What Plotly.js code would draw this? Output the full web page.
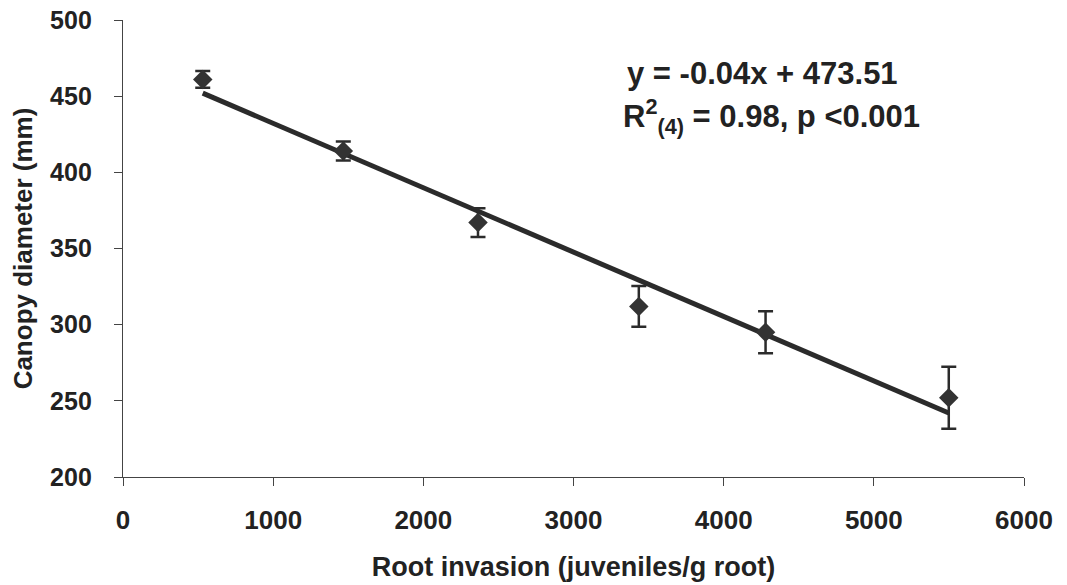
<!DOCTYPE html>
<html>
<head>
<meta charset="utf-8">
<script src="https://cdn.plot.ly/plotly-3.0.1.min.js"></script>
<style>html,body{margin:0;padding:0;background:#fff;}#chart{width:1067px;height:585px;}</style>
</head>
<body>
<div id="chart"></div>
<script>
// Data
const rootInvasion = [531, 1467, 2364, 3435, 4279, 5499];
const canopyDiameter = [461, 414, 367, 312, 295, 252];
const errorSE = [5.5, 6.2, 9.5, 13.4, 13.8, 20.3];
const fitX = [531, 5499];
const fitY = [452, 242];
const xTicks = [0, 1000, 2000, 3000, 4000, 5000, 6000];
const yTicks = [200, 250, 300, 350, 400, 450, 500];
const eqLine1 = "y = -0.04x + 473.51";
const eqLine2 = "R<sup>2</sup><sub>(4)</sub> = 0.98, p <0.001";

const font = "Liberation Sans, Arial, sans-serif";

const traces = [
  {
    x: fitX, y: fitY, mode: "lines", type: "scatter",
    line: {color: "#2b2b2b", width: 5}, hoverinfo: "skip", showlegend: false
  },
  {
    x: rootInvasion, y: canopyDiameter, mode: "markers", type: "scatter",
    marker: {symbol: "diamond", size: 15, color: "#333333"},
    error_y: {type: "data", array: errorSE, visible: true, color: "#2b2b2b", thickness: 2.5, width: 7.5},
    showlegend: false
  }
];

const layout = {
  width: 1067, height: 585,
  margin: {l: 123, r: 43, t: 20, b: 108},
  paper_bgcolor: "#fff", plot_bgcolor: "#fff",
  font: {family: font, color: "#222"},
  xaxis: {
    range: [0, 6000], tickvals: xTicks, ticktext: xTicks.map(String),
    showgrid: false, zeroline: false, showline: true, linecolor: "#444", linewidth: 1.2,
    ticks: "outside", ticklen: 8, tickcolor: "#444", tickwidth: 1,
    ticklabelstandoff: 12,
    tickfont: {family: font, size: 26, color: "#222", weight: "bold"},
    title: {text: "<b>Root invasion (juveniles/g root)</b>", font: {family: font, size: 27, color: "#222"}, standoff: 22}
  },
  yaxis: {
    range: [200, 500], tickvals: yTicks, ticktext: yTicks.map(String),
    showgrid: false, zeroline: false, showline: true, linecolor: "#444", linewidth: 1.2,
    ticks: "outside", ticklen: 8, tickcolor: "#444", tickwidth: 1,
    ticklabelstandoff: 17,
    tickfont: {family: font, size: 25, color: "#222", weight: "bold"},
    title: {text: "<b>Canopy diameter (mm)</b>", font: {family: font, size: 26, color: "#222"}, standoff: 10}
  },
  annotations: [
    {xref: "paper", yref: "paper", x: 0.71, y: 0.884, text: "<b>" + eqLine1 + "</b>", showarrow: false,
     font: {family: font, size: 31, color: "#222"}, xanchor: "center", yanchor: "middle"},
    {xref: "paper", yref: "paper", x: 0.72, y: 0.788, text: "<b>" + eqLine2 + "</b>", showarrow: false,
     font: {family: font, size: 31, color: "#222"}, xanchor: "center", yanchor: "middle"}
  ]
};

Plotly.newPlot("chart", traces, layout, {displayModeBar: false, staticPlot: true});
</script>
</body>
</html>
